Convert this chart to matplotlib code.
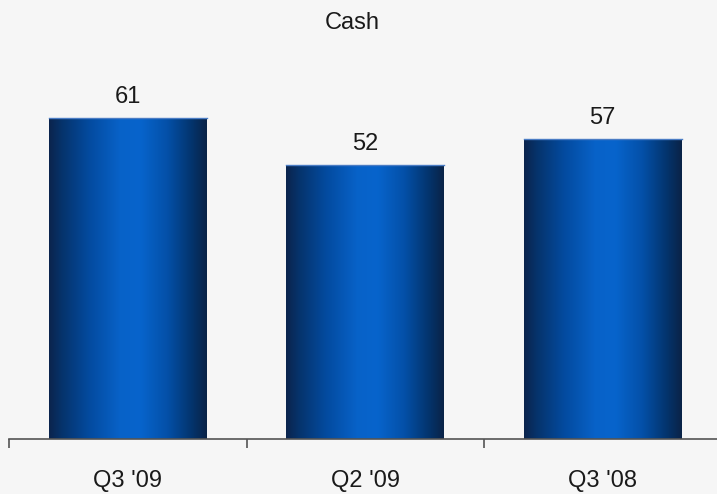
import numpy as np
import matplotlib
matplotlib.use("Agg")
from matplotlib import pyplot as plt
from matplotlib.colors import LinearSegmentedColormap

# quarterly cash figures
quarters = ["Q3 '09", "Q2 '09", "Q3 '08"]
cash = [61, 52, 57]

plt.rcParams['font.family'] = ['Liberation Sans', 'DejaVu Sans']

bg = '#f6f6f6'
fig = plt.figure(figsize=(7.17, 4.94), dpi=100, facecolor=bg)
ax = fig.add_axes([9/717, 55/494, 712.5/717, 421/494])
ax.set_facecolor(bg)

# horizontal shading across each bar: dark edges, bright blue middle
shade = LinearSegmentedColormap.from_list('barshade', [
    (0.00, '#0b244d'),
    (0.08, '#06336b'),
    (0.25, '#034a9e'),
    (0.45, '#0862c8'),
    (0.58, '#0764cc'),
    (0.75, '#0450a8'),
    (0.90, '#03356f'),
    (1.00, '#0a2347'),
])
grad = np.linspace(0, 1, 256).reshape(1, -1)

x = np.arange(len(quarters))
bars = ax.bar(x, cash, width=0.665, color='none', edgecolor='none', zorder=2)
for b in bars:
    x0, y0 = b.get_x(), b.get_y()
    im = ax.imshow(grad, cmap=shade, aspect='auto', zorder=2,
                   extent=(x0, x0 + b.get_width(), y0, y0 + b.get_height()))
    im.set_clip_path(b)
    ax.plot([x0, x0 + b.get_width()], [y0 + b.get_height()] * 2,
            color='#4a7cc4', lw=1.0, zorder=3)

for xi, v in zip(x, cash):
    ax.annotate(str(v), (xi, v), xytext=(0, 11), textcoords='offset points',
                ha='center', va='baseline', fontsize=17, color='#1a1a1a')

ax.set_xlim(-0.5, 2.5)
ax.set_ylim(0, 80)

for s in ['left', 'right', 'top']:
    ax.spines[s].set_visible(False)
ax.spines['bottom'].set_color('#555555')
ax.spines['bottom'].set_linewidth(1.2)
ax.set_yticks([])

ax.set_xticks(x)
ax.set_xticklabels(quarters, fontsize=17, color='#1a1a1a')
ax.set_xticks([-0.5, 0.5, 1.5, 2.5], minor=True)
ax.tick_params(axis='x', which='major', length=0, pad=22)
ax.tick_params(axis='x', which='minor', length=6.5, width=1.2, color='#555555', direction='out')

fig.text(352/717, 1 - 29/494, 'Cash', ha='center', va='baseline',
         fontsize=17, color='#1a1a1a')

fig.savefig('out.png', dpi=100, facecolor=bg)
